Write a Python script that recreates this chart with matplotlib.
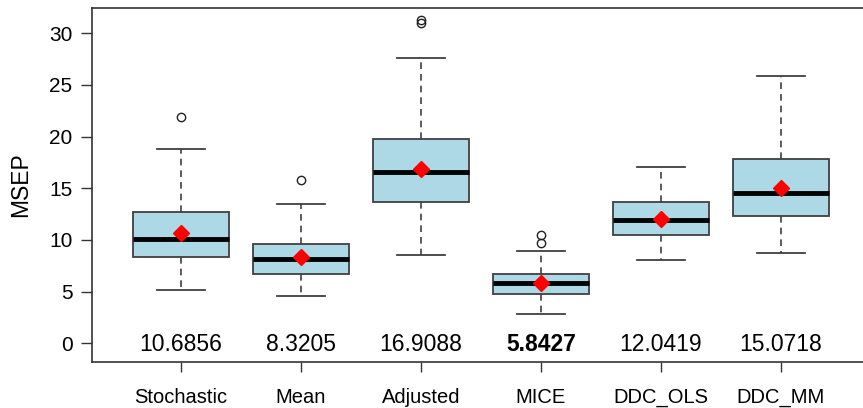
import matplotlib
matplotlib.use("Agg")
import matplotlib.pyplot as plt

methods = ["Stochastic", "Mean", "Adjusted", "MICE", "DDC_OLS", "DDC_MM"]
whislo = [5.16, 4.61, 8.58, 2.87, 8.03, 8.71]
q1 = [8.35, 6.74, 13.71, 4.80, 10.51, 12.32]
med = [10.07, 8.13, 16.55, 5.87, 11.91, 14.52]
q3 = [12.71, 9.61, 19.75, 6.74, 13.65, 17.81]
whishi = [18.84, 13.48, 27.65, 8.97, 17.04, 25.90]
outliers = [[21.94], [15.78], [31.3, 30.95], [10.45, 9.74], [], []]
means = [10.6856, 8.3205, 16.9088, 5.8427, 12.0419, 15.0718]
mean_labels = ["10.6856", "8.3205", "16.9088", "5.8427", "12.0419", "15.0718"]
best = "MICE"
yticks = [0, 5, 10, 15, 20, 25, 30]

plt.rcParams['font.family'] = ['Liberation Sans', 'DejaVu Sans']

fig = plt.figure(figsize=(8.63, 4.08), dpi=100)
ax = fig.add_axes([92/863, 46/408, 777.6/863, 354/408])

stats = []
for i, m in enumerate(methods):
    stats.append(dict(label=m, whislo=whislo[i], q1=q1[i], med=med[i],
                      q3=q3[i], whishi=whishi[i], fliers=outliers[i]))

pos = list(range(1, len(methods) + 1))
edge = '#404040'
ax.bxp(stats, positions=pos, widths=0.8, patch_artist=True,
       boxprops=dict(facecolor='#ADD8E6', edgecolor=edge, linewidth=1.3),
       whiskerprops=dict(color=edge, linewidth=1.2, linestyle=(0, (4, 3))),
       capprops=dict(color=edge, linewidth=1.3),
       medianprops=dict(color='black', linewidth=3.5, solid_capstyle='butt'),
       flierprops=dict(marker='o', markerfacecolor='none', markeredgecolor='#222222',
                       markersize=6, markeredgewidth=1.0),
       capwidths=0.4)

ax.plot(pos, means, linestyle='none', marker='D', color='red', markersize=8, zorder=5)

for p, lab, m in zip(pos, mean_labels, methods):
    ax.text(p, -0.15, lab, ha='center', va='center', fontsize=16.5,
            fontweight='bold' if m == best else 'normal', color='black')

ax.set_xlim(0.26, 6.74)
ax.set_ylim(-1.81, 32.45)
ax.set_yticks(yticks)
ax.set_yticklabels([str(t) for t in yticks])
ax.set_xticks(pos)
ax.set_xticklabels(methods)
ax.tick_params(axis='y', labelsize=15, length=8, width=1, color='#333333', pad=6)
ax.tick_params(axis='x', labelsize=14.5, length=7.5, width=1, color='#333333', pad=11)
ax.set_ylabel("MSEP", fontsize=16.5)
ax.yaxis.set_label_coords(-0.077, 0.5)
for s in ax.spines.values():
    s.set_color('#333333')
    s.set_linewidth(1.2)

fig.savefig("out.png", dpi=100)
